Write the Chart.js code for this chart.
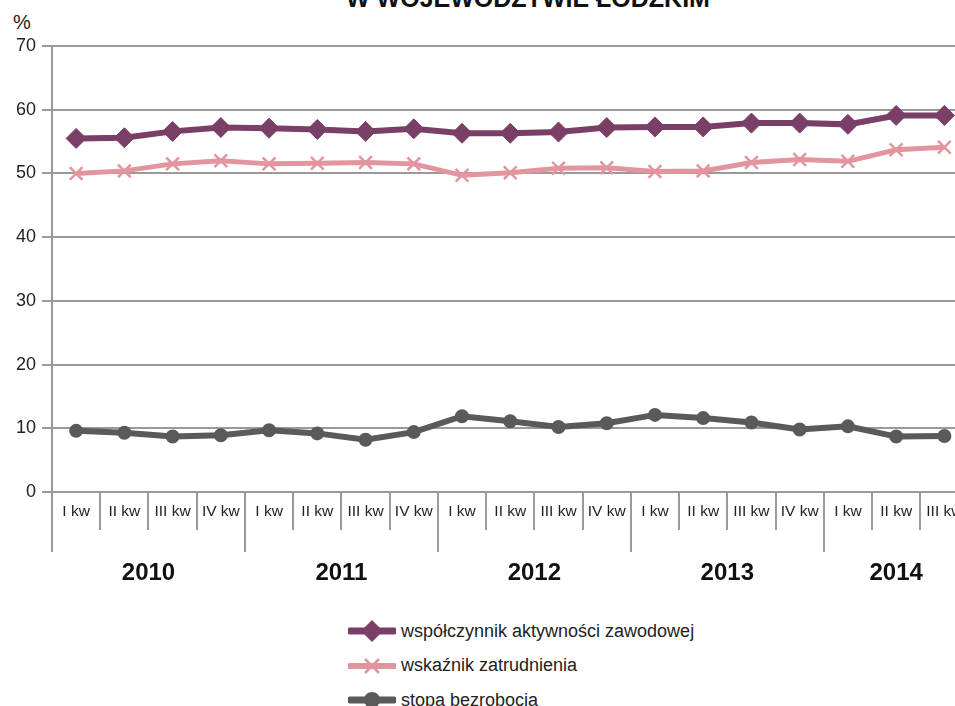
<!DOCTYPE html>
<html lang="pl">
<head>
<meta charset="utf-8">
<title>Aktywność zawodowa w województwie łódzkim</title>
<script src="https://cdn.jsdelivr.net/npm/chart.js@4/dist/chart.umd.min.js"></script>
<style>
  html, body { margin: 0; padding: 0; background: #fff; }
  body { position: relative; width: 955px; height: 706px; overflow: hidden; }
  #chart { position: absolute; left: 0; top: 0; }
  .title { position: absolute; left: 0; width: 1056px; top: -14px; text-align: center;
           font: bold 25px "Liberation Sans", Arial, sans-serif; color: #111; line-height: 1; }
  .unit { position: absolute; left: 13px; top: 11px; font: 20px "Liberation Sans", Arial, sans-serif; color: #222; }
  .legend { position: absolute; left: 348px; top: 614px; font: 18px "Liberation Sans", Arial, sans-serif; color: #222; }
  .legend-item { display: flex; align-items: center; height: 34.5px; }
  .legend-item svg { margin-right: 5px; }
</style>
</head>
<body>
<div class="title">W WOJEWÓDZTWIE ŁÓDZKIM</div>
<div class="unit">%</div>
<canvas id="chart" width="980" height="600"></canvas>
<div class="legend" id="legend"></div>
<script>
// quarters 2010 I kw .. 2014 III kw
const quarters = [
    'I kw', 'II kw', 'III kw', 'IV kw',
    'I kw', 'II kw', 'III kw', 'IV kw',
    'I kw', 'II kw', 'III kw', 'IV kw',
    'I kw', 'II kw', 'III kw', 'IV kw',
    'I kw', 'II kw', 'III kw'
];
const years = ['2010', '2011', '2012', '2013', '2014'];
const quartersPerYear = [4, 4, 4, 4, 3];

const activityRate = [55.5, 55.6, 56.6, 57.2, 57.1, 56.9, 56.6, 57.0, 56.3, 56.3, 56.5, 57.2, 57.3, 57.3, 57.9, 57.9, 57.7, 59.1, 59.1];
const employmentRate = [50.0, 50.4, 51.5, 52.0, 51.5, 51.6, 51.7, 51.5, 49.7, 50.1, 50.8, 50.9, 50.3, 50.4, 51.7, 52.2, 51.9, 53.7, 54.1];
const unemploymentRate = [9.6, 9.3, 8.7, 8.9, 9.7, 9.2, 8.2, 9.4, 11.9, 11.1, 10.2, 10.8, 12.1, 11.6, 10.9, 9.8, 10.3, 8.7, 8.8];

const seriesNames = ['współczynnik aktywności zawodowej', 'wskaźnik zatrudnienia', 'stopa bezrobocia'];

const COLORS = {
    activity: '#7a3f66',
    employment: '#e3959f',
    unemployment: '#5a5a5a',
    grid: '#9a9a9a',
    text: '#222'
};

const FONT = '"Liberation Sans", Arial, sans-serif';

// year boundaries and centres, in category units
const yearBounds = [];
const yearCenters = [];
let start = 0;
quartersPerYear.forEach(n => {
    yearBounds.push(start - 0.5);
    yearCenters.push(start + (n - 1) / 2);
    start += n;
});

const ctx = document.getElementById('chart');

new Chart(ctx, {
    type: 'line',
    data: {
        labels: quarters,
        datasets: [
            {
                label: seriesNames[0],
                data: activityRate,
                borderColor: COLORS.activity,
                backgroundColor: COLORS.activity,
                borderWidth: 6,
                pointStyle: 'rectRot',
                pointRadius: 10,
                pointBorderWidth: 1,
                tension: 0
            },
            {
                label: seriesNames[1],
                data: employmentRate,
                borderColor: COLORS.employment,
                backgroundColor: COLORS.employment,
                borderWidth: 5,
                pointStyle: 'crossRot',
                pointRadius: 9,
                pointBorderWidth: 2.5,
                tension: 0
            },
            {
                label: seriesNames[2],
                data: unemploymentRate,
                borderColor: COLORS.unemployment,
                backgroundColor: COLORS.unemployment,
                borderWidth: 6,
                pointStyle: 'circle',
                pointRadius: 6,
                pointBorderWidth: 2,
                tension: 0
            }
        ]
    },
    options: {
        responsive: false,
        animation: false,
        layout: { padding: { top: 46, right: 0, bottom: 0, left: 0 } },
        plugins: {
            legend: { display: false },
            tooltip: { enabled: false }
        },
        scales: {
            y: {
                min: 0,
                max: 70,
                ticks: {
                    stepSize: 10,
                    padding: 6,
                    color: COLORS.text,
                    font: { family: FONT, size: 18 }
                },
                grid: { color: COLORS.grid, lineWidth: 2, tickLength: 10 },
                border: { display: true, color: COLORS.grid, width: 2 },
                afterFit: (scale) => { scale.width = 52; }
            },
            x: {
                type: 'category',
                position: 'bottom',
                weight: 0,
                offset: true,
                ticks: {
                    autoSkip: false,
                    maxRotation: 0,
                    padding: -28,
                    color: COLORS.text,
                    font: { family: FONT, size: 15.5 }
                },
                grid: {
                    offset: true,
                    drawOnChartArea: false,
                    drawTicks: true,
                    tickLength: 38,
                    color: COLORS.grid,
                    lineWidth: 2
                },
                border: { display: false },
                afterFit: (scale) => { scale.height = 38; }
            },
            years: {
                type: 'linear',
                position: 'bottom',
                weight: 1,
                min: -0.5,
                max: quarters.length - 0.5,
                afterBuildTicks: (scale) => {
                    scale.ticks = yearBounds.concat(yearCenters).map(v => ({ value: v }));
                },
                ticks: {
                    autoSkip: false,
                    maxRotation: 0,
                    padding: 7,
                    color: '#111',
                    font: { family: FONT, size: 24, weight: 'bold' },
                    callback: (value) => {
                        const i = yearCenters.indexOf(value);
                        return i >= 0 ? years[i] : '';
                    }
                },
                grid: {
                    drawOnChartArea: false,
                    drawTicks: true,
                    tickLength: 22,
                    lineWidth: 2,
                    color: (c) => (c.tick && yearBounds.includes(c.tick.value)) ? COLORS.grid : 'rgba(0,0,0,0)'
                },
                border: { display: false },
                afterFit: (scale) => { scale.height = 70; }
            }
        }
    }
});

// legend built from the series settings
const legendEl = document.getElementById('legend');
const legendSymbols = [
    `<svg width="48" height="26"><line x1="2" y1="13" x2="46" y2="13" stroke="${COLORS.activity}" stroke-width="7" stroke-linecap="round"/><polygon points="24,2 35,13 24,24 13,13" fill="${COLORS.activity}"/></svg>`,
    `<svg width="48" height="26"><line x1="2" y1="13" x2="46" y2="13" stroke="${COLORS.employment}" stroke-width="6" stroke-linecap="round"/><path d="M17 6 L31 20 M31 6 L17 20" stroke="${COLORS.employment}" stroke-width="2.5"/></svg>`,
    `<svg width="48" height="26"><line x1="2" y1="13" x2="46" y2="13" stroke="${COLORS.unemployment}" stroke-width="7" stroke-linecap="round"/><circle cx="24" cy="13" r="8" fill="${COLORS.unemployment}"/></svg>`
];
legendEl.innerHTML = seriesNames
    .map((name, i) => `<div class="legend-item">${legendSymbols[i]}<span>${name}</span></div>`)
    .join('');
</script>
</body>
</html>
